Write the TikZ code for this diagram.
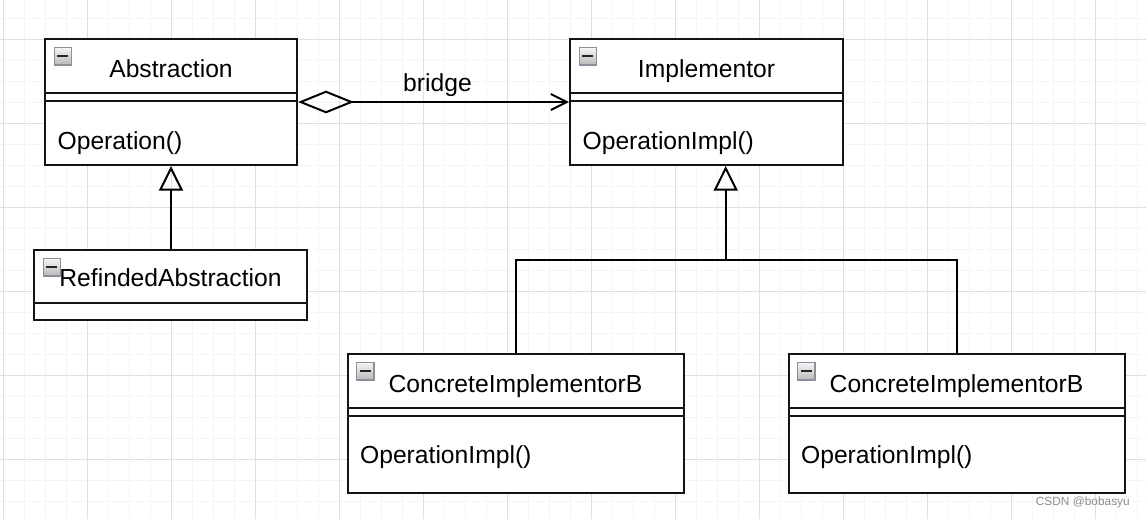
\documentclass[tikz,border=0pt]{standalone}
\usepackage{fontspec}
\setmainfont{Liberation Sans}
\usetikzlibrary{arrows.meta}
\definecolor{gridmajor}{HTML}{E0E0E0}
\definecolor{gridminor}{HTML}{F5F5F5}
\definecolor{iconedge}{HTML}{8C909A}
\tikzset{
  umlclass/.style={draw=black!92, line width=1.5pt, fill=white, inner sep=0pt},
  clsicon/.style={draw=iconedge, line width=1pt, top color=white!92!gray, bottom color=black!28,
    minimum size=13pt, inner sep=0pt,
    path picture={\draw[line width=1.6pt, black!85]
      ([xshift=2.4pt,yshift=0.4pt]path picture bounding box.west) --
      ([xshift=-2.4pt,yshift=0.4pt]path picture bounding box.east);}},
  clstitle/.style={font=\fontsize{18.5}{22}\selectfont, inner sep=0pt, anchor=base},
  clsoper/.style={font=\fontsize{18.5}{22}\selectfont, inner sep=0pt, anchor=base west},
  compart/.style={line width=1.5pt, black!92},
  inherit/.style={line width=1.5pt, -{Triangle[open, length=18.5pt, width=18pt]}},
  aggreg/.style={line width=1.5pt, {Diamond[open, length=42pt, width=17pt]}-{Straight Barb[length=12pt, width=12pt]}}
}
\begin{document}
\begin{tikzpicture}[x=0.75pt,y=-0.75pt]
\useasboundingbox (0,0) rectangle (1146,519);
% background grid
\foreach \gx in {3.3,24.3,...,1146} \draw[gridminor, line width=0.6pt] (\gx,0) -- (\gx,519);
\foreach \gy in {18.3,39.3,...,519} \draw[gridminor, line width=0.6pt] (0,\gy) -- (1146,\gy);
\foreach \gx in {3.3,87.3,...,1146} \draw[gridmajor, line width=0.75pt] (\gx,0) -- (\gx,519);
\foreach \gy in {39.3,123.3,...,519} \draw[gridmajor, line width=0.75pt] (0,\gy) -- (1146,\gy);

% classes
\node[umlclass, minimum width=189pt, minimum height=94.5pt] (abs) at (171,102) {};
\node[umlclass, minimum width=204.75pt, minimum height=94.5pt] (impl) at (706.5,102) {};
\node[umlclass, minimum width=204.75pt, minimum height=52.5pt] (refabs) at (170.5,285) {};
\node[umlclass, minimum width=252pt, minimum height=104.25pt] (concA) at (515.5,423.5) {};
\node[umlclass, minimum width=252pt, minimum height=104.25pt] (concB) at (956.5,423.5) {};

% compartments
\foreach \cls in {abs,impl,concA,concB} {
  \draw[compart] ([yshift=-41pt]\cls.north west) -- ([yshift=-41pt]\cls.north east);
  \draw[compart] ([yshift=-47.6pt]\cls.north west) -- ([yshift=-47.6pt]\cls.north east);
}
\draw[compart] ([yshift=-40.2pt]refabs.north west) -- ([yshift=-40.2pt]refabs.north east);

% collapse icons
\foreach \cls in {abs,impl,refabs,concA,concB}
  \node[clsicon] (\cls-icon) at ([xshift=14.2pt,yshift=-13.8pt]\cls.north west) {};

% names and operations
\node[clstitle] (abs-name) at ([yshift=-29.6pt]abs.north) {Abstraction};
\node[clsoper] (abs-op) at ([xshift=10pt,yshift=-83.5pt]abs.north west) {Operation()};
\node[clstitle] (impl-name) at ([yshift=-29.6pt]impl.north) {Implementor};
\node[clsoper] (impl-op) at ([xshift=10pt,yshift=-83.5pt]impl.north west) {OperationImpl()};
\node[clstitle] (refabs-name) at ([yshift=-28pt]refabs.north) {RefindedAbstraction};
\node[clstitle] (concA-name) at ([yshift=-29.6pt]concA.north) {ConcreteImplementorB};
\node[clsoper] (concA-op) at ([xshift=10pt,yshift=-83pt]concA.north west) {OperationImpl()};
\node[clstitle] (concB-name) at ([yshift=-29.6pt]concB.north) {ConcreteImplementorB};
\node[clsoper] (concB-op) at ([xshift=10pt,yshift=-83pt]concB.north west) {OperationImpl()};

% relations
\draw[aggreg] (abs.east) -- node[clstitle, above=3.5pt, xshift=3pt] (bridge) {bridge} (impl.west);
\draw[inherit] (refabs.north -| abs.south) -- (abs.south);
\coordinate (fork) at (725.7,259.5);
\draw[line width=1.5pt] (concA.north) |- (fork) -| (concB.north);
\draw[inherit] (fork) -- (impl.south -| fork);

\node[font=\fontsize{8.9}{10}\selectfont, text=black!45, inner sep=0pt, anchor=base east] (wmark) at (1130,505.7) {CSDN @bobasyu};
\end{tikzpicture}
\end{document}
